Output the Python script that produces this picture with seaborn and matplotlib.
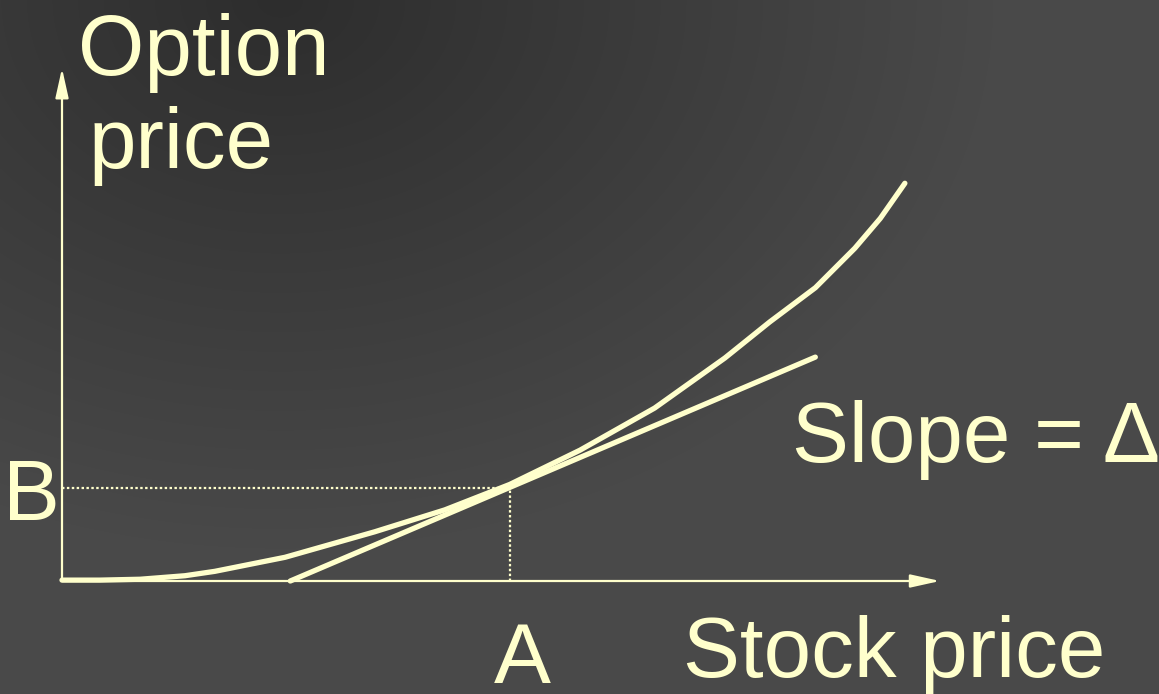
import numpy as np
import pandas as pd
import matplotlib
matplotlib.use("Agg")
import matplotlib.pyplot as plt
import seaborn as sns

# option price curve (stock price 0-100 scale)
stock = [0, 4.3, 8.9, 14.0, 17.4, 25.4, 35.6, 43.6, 51.0, 59.0, 67.5, 75.5, 80.6, 85.8, 90.3, 93.2, 96.0]
option = [0.1, 0.1, 0.2, 0.6, 1.1, 2.7, 5.6, 8.1, 11.0, 14.9, 19.7, 25.4, 29.5, 33.4, 37.9, 41.3, 45.3]

# tangent line at A
tangent_x = [26.0, 85.8]
tangent_y = [0.0, 25.5]

point_a = 51.0
point_b = 10.6

curve = pd.DataFrame({"Stock price": stock, "Option price": option})
tangent = pd.DataFrame({"x": tangent_x, "y": tangent_y})

fg = "#ffffcc"
sns.set_style("dark")
plt.rcParams['font.family'] = ['Liberation Sans', 'DejaVu Sans']

fig = plt.figure(figsize=(11.59, 6.94), dpi=100)
ax = fig.add_axes([0, 0, 1, 1])

# 1 data unit = 8.78 px, origin at pixel (62, 581)
k = 8.78
ax.axis("off")

# background gradient, darker towards the top left
h, w = 694, 1159
yy, xx = np.mgrid[0:h, 0:w]
d = np.sqrt((xx - 280) ** 2 + (yy * 1.3) ** 2)
shade = 0.18 + (0.29 - 0.18) * np.clip(d / 720, 0, 1)
ax.imshow(shade, cmap="gray", vmin=0, vmax=1, extent=[0, 1, 0, 1],
          transform=ax.transAxes, aspect="auto", zorder=0)

# axes with arrow heads
arrow = dict(arrowstyle="-|>,head_length=0.9,head_width=0.2", color=fg, lw=1.6,
             mutation_scale=20, shrinkA=0, shrinkB=0)
ax.annotate("", xy=(100, 0), xytext=(0, 0), arrowprops=arrow, zorder=2)
ax.annotate("", xy=(0, 58.4), xytext=(0, 0), arrowprops=arrow, zorder=2)

# dotted guides to A and B
ax.plot([0, point_a], [point_b, point_b], color=fg, lw=1.6, dashes=(1.1, 1.1), zorder=2)
ax.plot([point_a, point_a], [0, point_b], color=fg, lw=1.6, dashes=(1.1, 1.1), zorder=2)

sns.lineplot(data=curve, x="Stock price", y="Option price", sort=False, estimator=None,
             color=fg, lw=3.8, ax=ax, zorder=3)
sns.lineplot(data=tangent, x="x", y="y", sort=False, estimator=None,
             color=fg, lw=3.8, ax=ax, zorder=3)
ax.set_xlim(-62 / k, (1159 - 62) / k)
ax.set_ylim(-(694 - 581) / k, 581 / k)

fs = 61.5
ax.text(1.8, 57.6, "Option", color=fg, fontsize=fs, va="baseline")
ax.text(3.0, 47.0, "price", color=fg, fontsize=fs, va="baseline")
ax.text(-0.2, 6.9, "B", color=fg, fontsize=fs, va="baseline", ha="right")
ax.text(52.4, -11.6, "A", color=fg, fontsize=fs, va="baseline", ha="center")
ax.text(70.7, -10.9, "Stock price", color=fg, fontsize=fs, va="baseline")
ax.text(83.1, 13.55, "Slope = \u0394", color=fg, fontsize=fs, va="baseline")

fig.savefig("out.png", dpi=100)
